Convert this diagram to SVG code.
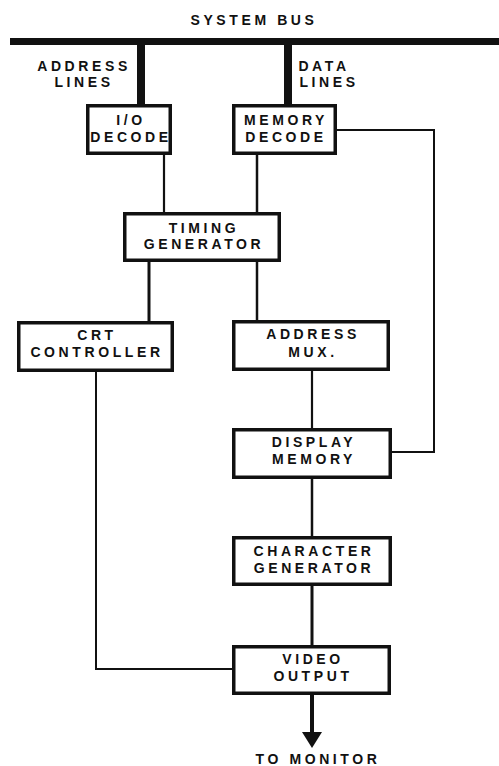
<svg xmlns="http://www.w3.org/2000/svg" width="499" height="766" viewBox="0 0 499 766">
<style>
text{font-family:"Liberation Sans",Arial,sans-serif;font-weight:bold;font-size:14px;letter-spacing:3.6px;fill:#111;text-anchor:middle}
.box{fill:#fff;stroke:#111;stroke-width:3.5}
.c{stroke:#111;fill:none;stroke-linecap:butt}
</style>
<rect width="499" height="766" fill="#fff"/>
<g id="connectors">
<line class="c" x1="10" y1="41.5" x2="499" y2="41.5" stroke-width="7"/>
<line class="c" x1="141" y1="41" x2="141" y2="104" stroke-width="8"/>
<line class="c" x1="288" y1="41" x2="288" y2="104" stroke-width="8"/>
<line class="c" x1="164" y1="155" x2="164" y2="212" stroke-width="2.2"/>
<line class="c" x1="257" y1="155" x2="257" y2="212" stroke-width="2.5"/>
<line class="c" x1="149" y1="262" x2="149" y2="321" stroke-width="3"/>
<line class="c" x1="257" y1="262" x2="257" y2="320" stroke-width="2.5"/>
<polyline class="c" points="337,130 434,130 434,452 392,452" stroke-width="2"/>
<line class="c" x1="312" y1="371" x2="312" y2="428" stroke-width="2.2"/>
<line class="c" x1="312" y1="479" x2="312" y2="536" stroke-width="2.5"/>
<line class="c" x1="312" y1="586" x2="312" y2="645" stroke-width="3"/>
<polyline class="c" points="96,372 96,669 232,669" stroke-width="2"/>
<line class="c" x1="312" y1="695" x2="312" y2="733" stroke-width="4"/>
<polygon points="302,732 322,732 312,748" fill="#111"/>
</g>
<g id="labels">
<text x="254" y="25">SYSTEM BUS</text>
<text x="84" y="71">ADDRESS</text>
<text x="84" y="87">LINES</text>
<text x="324" y="71">DATA</text>
<text x="329" y="87">LINES</text>
<text x="318" y="764">TO MONITOR</text>
</g>
<g id="io-decode">
<rect class="box" x="87.75" y="105.75" width="82.5" height="47.5"/>
<text x="131" y="125">I/O</text>
<text x="131" y="142">DECODE</text>
</g>
<g id="memory-decode">
<rect class="box" x="233.75" y="105.75" width="101.5" height="47.5"/>
<text x="286" y="125">MEMORY</text>
<text x="286" y="142">DECODE</text>
</g>
<g id="timing-generator">
<rect class="box" x="124.75" y="213.75" width="154.5" height="46.5"/>
<text x="204" y="233">TIMING</text>
<text x="204" y="249">GENERATOR</text>
</g>
<g id="crt-controller">
<rect class="box" x="18.75" y="322.75" width="153.5" height="47.5"/>
<text x="97" y="340">CRT</text>
<text x="97" y="357">CONTROLLER</text>
</g>
<g id="address-mux">
<rect class="box" x="233.75" y="321.75" width="154.5" height="47.5"/>
<text x="313" y="339">ADDRESS</text>
<text x="313" y="357">MUX.</text>
</g>
<g id="display-memory">
<rect class="box" x="233.75" y="429.75" width="156.5" height="47.5"/>
<text x="314" y="447">DISPLAY</text>
<text x="314" y="464">MEMORY</text>
</g>
<g id="character-generator">
<rect class="box" x="233.75" y="537.75" width="156.5" height="46.5"/>
<text x="314" y="556">CHARACTER</text>
<text x="314" y="573">GENERATOR</text>
</g>
<g id="video-output">
<rect class="box" x="233.75" y="646.75" width="155.5" height="46.5"/>
<text x="313" y="664">VIDEO</text>
<text x="313" y="681">OUTPUT</text>
</g>
</svg>
